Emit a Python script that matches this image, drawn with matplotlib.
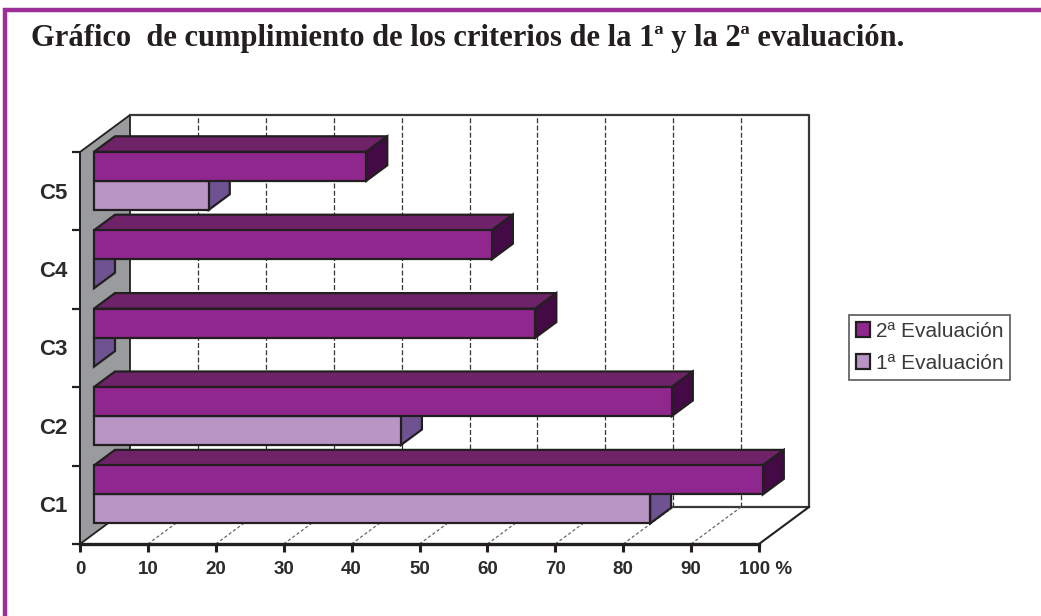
import matplotlib
matplotlib.use("Agg")
import matplotlib.pyplot as plt
from matplotlib.patches import Polygon, Patch
from matplotlib.lines import Line2D
from matplotlib.transforms import ScaledTranslation

categories = ["C1", "C2", "C3", "C4", "C5"]
eval_1 = [81.9, 45.2, 0, 0, 16.9]
eval_2 = [98.5, 85.1, 65.0, 58.6, 40.1]
x_ticks = [0, 10, 20, 30, 40, 50, 60, 70, 80, 90, 100]
x_tick_labels = ["0", "10", "20", "30", "40", "50", "60", "70", "80", "90", "100 %"]
title = "Gráfico  de cumplimiento de los criterios de la 1ª y la 2ª evaluación."
label_1 = "1ª Evaluación"
label_2 = "2ª Evaluación"

W, H = 1041, 616
INK = "#231f20"
PURPLE = "#9b2f96"
C2_FRONT, C2_TOP, C2_SIDE = "#90278e", "#6e2368", "#430a45"
C1_FRONT, C1_TOP, C1_SIDE = "#b995c6", "#6e5291", "#6e5291"
WALL = "#9a9b9d"

fig = plt.figure(figsize=(W / 100, H / 100), dpi=100, facecolor="white")
ax = fig.add_axes([80 / W, (H - 544) / H, 679 / W, 392 / H])
ax.set_xlim(0, 100)
ax.set_ylim(0, len(categories))
ax.patch.set_visible(False)

DX = 50 / 6.79   # depth of the box in x units
DY = 37 / 78.4   # depth of the box in category units
Z0, Z1 = 0.28, 0.70
LW = 1.6


def proj(v, y, z=0.0):
    return (v + DX * z, y + DY * z)


def poly(points, face, edge=INK, lw=LW, z=2):
    ax.add_patch(Polygon(points, closed=True, facecolor=face, edgecolor=edge,
                         linewidth=lw, clip_on=False, zorder=z, joinstyle="miter"))


n = len(categories)
# left wall
poly([proj(0, 0), proj(0, n), proj(0, n, 1), proj(0, 0, 1)], WALL, lw=1.3, z=1)
# back wall outline
ax.plot([proj(0, n, 1)[0], proj(100, n, 1)[0], proj(100, 0, 1)[0], proj(0, 0, 1)[0]],
        [proj(0, n, 1)[1], proj(100, n, 1)[1], proj(100, 0, 1)[1], proj(0, 0, 1)[1]],
        color="#3a3839", lw=1.6, clip_on=False, zorder=1)
# floor right edge
ax.plot([100, proj(100, 0, 1)[0]], [0, proj(100, 0, 1)[1]], color=INK, lw=1.5,
        clip_on=False, zorder=1)
# grid lines
for v in x_ticks[1:-1]:
    ax.plot([proj(v, 0, 1)[0]] * 2, [proj(v, 0, 1)[1], proj(v, n, 1)[1]],
            color="#333333", lw=0.9, ls=(0, (4, 1.8)), clip_on=False, zorder=1)
    ax.plot([v, proj(v, 0, 1)[0]], [0, proj(v, 0, 1)[1]],
            color="#666666", lw=0.9, ls=(0, (2.5, 1.8)), clip_on=False, zorder=1)


def bar3d(v, y0, y1, front, top, side):
    poly([proj(0, y1, Z0), proj(0, y1, Z1), proj(v, y1, Z1), proj(v, y1, Z0)], top)
    poly([proj(v, y0, Z0), proj(v, y1, Z0), proj(v, y1, Z1), proj(v, y0, Z1)], side)
    if v > 0:
        poly([proj(0, y0, Z0), proj(v, y0, Z0), proj(v, y1, Z0), proj(0, y1, Z0)], front)


for i in range(n - 1, -1, -1):
    bar3d(eval_1[i], i + 0.13, i + 0.5, C1_FRONT, C1_TOP, C1_SIDE)
    bar3d(eval_2[i], i + 0.5, i + 0.87, C2_FRONT, C2_TOP, C2_SIDE)

# axes
for s in ("top", "right"):
    ax.spines[s].set_visible(False)
ax.spines["left"].set_color(INK)
ax.spines["left"].set_linewidth(1.2)
ax.spines["bottom"].set_color(INK)
ax.spines["bottom"].set_linewidth(2.4)
ax.spines["bottom"].set_zorder(5)

ax.set_xticks(x_ticks)
ax.set_xticklabels(x_tick_labels, family="Liberation Sans", fontweight="bold",
                   fontsize=13.5, color="#2b2b2b")
ax.set_yticks(range(n + 1))
ax.set_yticklabels([])
ax.tick_params(axis="x", length=6, width=2.2, color=INK, pad=6)
ax.tick_params(axis="y", length=6, width=1.6, color=INK)
lab = ax.get_xticklabels()[-1]
lab.set_transform(lab.get_transform() + ScaledTranslation(7 / 100, 0, fig.dpi_scale_trans))

for i, c in enumerate(categories):
    ax.text(-0.018, i + 0.475, c, transform=ax.get_yaxis_transform(), ha="right", va="center",
            family="Liberation Sans", fontweight="bold", fontsize=16, color="#2b2b2b", clip_on=False)

# legend
handles = [Patch(facecolor=C2_FRONT, edgecolor=INK, linewidth=1.6, label=label_2),
           Patch(facecolor=C1_FRONT, edgecolor=INK, linewidth=1.6, label=label_1)]
leg = ax.legend(handles=handles, loc="upper left", bbox_to_anchor=(849 / W, 1 - 315 / H),
                bbox_transform=fig.transFigure, borderaxespad=0, fancybox=False, framealpha=1,
                edgecolor="#666666", prop={"family": "Liberation Sans", "size": 15},
                handlelength=0.7, handleheight=0.7, handletextpad=0.25,
                labelspacing=0.62, borderpad=0.33, labelcolor="#3a3a3a")
leg.get_frame().set_linewidth(1.3)

# title
fig.text(31 / W, 1 - 46 / H, title, family="Liberation Serif", fontweight="bold",
         fontsize=22, color="#231f20", ha="left", va="baseline")

# page border
fig.add_artist(Line2D([5 / W, 5 / W], [0, 1 - 8 / H], color=PURPLE, lw=3.2, solid_capstyle="butt"))
fig.add_artist(Line2D([3 / W, 1], [1 - 10 / H, 1 - 10 / H], color=PURPLE, lw=3.2, solid_capstyle="butt"))

fig.savefig("out.png", dpi=100)
